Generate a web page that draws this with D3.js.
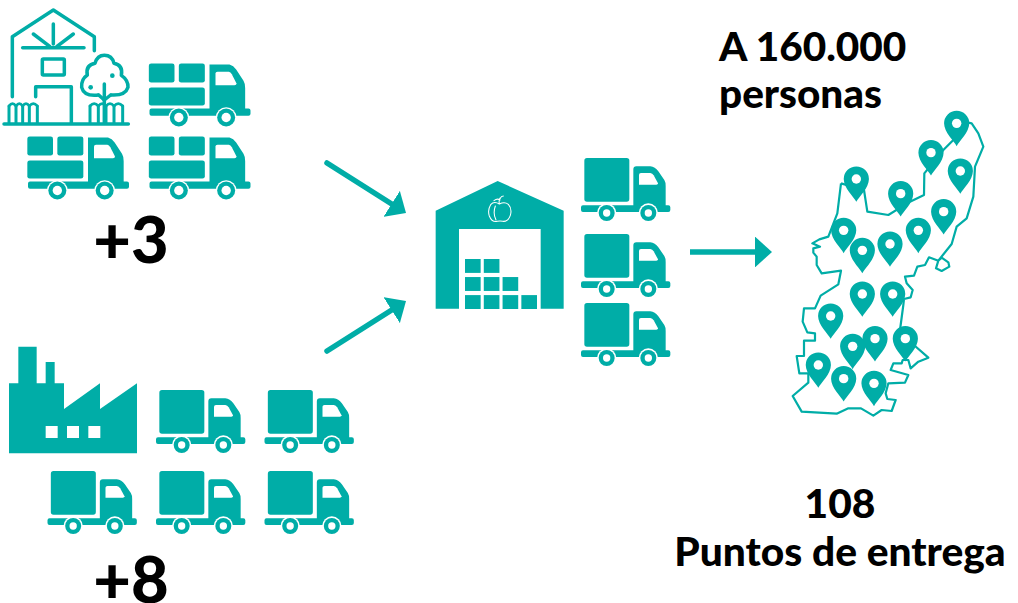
<!DOCTYPE html>
<html>
<head>
<meta charset="utf-8">
<script src="https://cdn.jsdelivr.net/npm/d3@7"></script>
<style>
  html, body { margin: 0; padding: 0; background: #fff; }
  svg { display: block; }
  text { font-family: Lato, sans-serif; font-weight: 900; fill: #000; }
</style>
</head>
<body>
<div id="plot"></div>
<script>
const teal = "#00ADA7";

// texts
const headline = ["A 160.000", "personas"];
const footer = ["108", "Puntos de entrega"];
const addFarms = "+3";
const addFactories = "+8";

// fleet layout, counted in rows and columns
const farmTrucks = [[0, 1], [1, 0], [1, 1]];
const factoryTrucks = [[0, 1], [0, 2], [1, 0], [1, 1], [1, 2]];
const depotTrucks = [0, 1, 2];
const crateRows = [2, 3, 4];

// map outline (x,y in map units)
const mapX = [183,172,145,118,97,120,100,100,110,110,125,183,175,122,105,72,68,82,105,105,72,72,50,58,85,85,38,65,170,205,243,280,305,335,347,322,317,325,375,385,332,340,365,368,385,392,415,445,405,360,370,372,392,398,380,375,402,412,435,447,475,468,485,508,505,485,475,515,530,560,580,585,610,595,575,565,520,490,433,432,390,325,262,252,183];
const mapY = [250,340,410,418,430,440,445,458,470,495,520,512,553,587,625,625,665,697,700,722,722,768,768,820,820,848,888,935,941,925,925,947,930,933,900,897,880,850,848,825,810,790,790,780,780,805,785,773,738,690,615,597,592,570,550,530,527,500,495,472,482,505,513,500,487,473,482,432,380,355,290,200,140,100,70,68,120,150,220,285,305,345,335,270,250];

// delivery points shown on the map
const pinX = [530,453,541,229,362,491,415,191,330,247,247,338,152,285,376,218,115,191,282];
const pinY = [70,158,213,237,281,335,391,391,432,451,582,582,648,716,716,739,795,836,850];

const width = 1018, height = 603;
const svg = d3.select("#plot").append("svg")
  .attr("width", width)
  .attr("height", height)
  .attr("viewBox", `0 0 ${width} ${height}`);

// all icons are traced on a 3x grid
const icon = (x, y) => svg.append("g").attr("transform", `translate(${x},${y}) scale(${1 / 3})`);

function wheels(g, wheelXs, cy, outer, ring, hole) {
  wheelXs.forEach(cx => {
    g.append("circle").attr("cx", cx).attr("cy", cy).attr("r", outer).attr("fill", "#fff");
    g.append("circle").attr("cx", cx).attr("cy", cy).attr("r", ring).attr("fill", teal);
    g.append("circle").attr("cx", cx).attr("cy", cy).attr("r", hole).attr("fill", "#fff");
  });
}

function plainTruck(x, y) {
  const g = icon(x, y);
  g.append("rect").attr("x", 10).attr("y", 0).attr("width", 135).attr("height", 131).attr("rx", 8).attr("fill", teal);
  g.append("path").attr("fill", teal)
    .attr("d", "M157,34 Q157,25 166,25 L208,25 Q222,27 232,40 L250,66 Q254,72 254,84 L254,142 L262,142 Q268,142 268,148 L268,156 Q268,162 262,162 L6,162 Q0,162 0,156 L0,148 Q0,142 6,142 L157,142 Z");
  g.append("path").attr("fill", "#fff")
    .attr("d", "M174,50 Q174,45 180,45 L208,45 Q214,46 218,52 L231,76 Q231,80 226,80 L174,80 Z");
  wheels(g, [77, 202], 165, 29, 24, 11);
}

function cargoTruck(x, y) {
  const g = icon(x, y);
  [[-2, 0, 77, 57], [88, 0, 78, 57], [-2, 72, 168, 54]].forEach(b => {
    g.append("rect").attr("x", b[0]).attr("y", b[1]).attr("width", b[2]).attr("height", b[3]).attr("rx", 7).attr("fill", teal);
  });
  g.append("path").attr("fill", teal)
    .attr("d", "M180,3 L240,3 Q252,6 260,18 L282,52 Q287,60 287,74 L287,135 L297,135 Q303,135 303,141 L303,151 Q303,157 297,157 L6,157 Q0,157 0,151 L0,141 Q0,135 6,135 L180,135 Z");
  g.append("path").attr("fill", "#fff")
    .attr("d", "M198,30 Q198,25 204,25 L238,25 Q243,26 247,32 L261,60 Q261,65 255,65 L198,65 Z");
  wheels(g, [88, 230], 162, 31, 27, 14);
}

// farm house
function house(x, y) {
  const g = icon(x, y).attr("fill", "none").attr("stroke", teal).attr("stroke-width", 10.5)
    .attr("stroke-linecap", "round").attr("stroke-linejoin", "round");
  const paths = [
    "M37,290 L37,110 L160,30 L283,110 L283,152",
    "M160,72 L160,132", "M100,102 L150,140", "M220,102 L170,140", "M68,143 L252,143",
    "M107,290 L107,260 L214,260 L214,370",
    "M12,372 L385,372",
    "M295,285 Q252,290 245,262 Q243,238 262,225 Q256,196 285,190 Q292,166 313,166 Q336,166 342,190 Q370,196 364,226 Q385,240 384,262 Q376,288 333,285",
    "M313,252 L313,370", "M313,300 L296,285", "M313,300 L332,285"
  ];
  paths.forEach(d => g.append("path").attr("d", d));
  g.append("rect").attr("x", 127).attr("y", 177).attr("width", 66).attr("height", 48).attr("rx", 3);
  // fence pickets
  [[27, 48, 68, 88, 112], [270, 295, 318, 342, 368]].forEach(fence => {
    fence.forEach((px, i, all) => {
      g.append("path").attr("stroke-width", 9).attr("d", `M${px},370 L${px},318`);
      if (i < all.length - 1) g.append("path").attr("stroke-width", 8).attr("d", `M${px},318 Q${(px + all[i + 1]) / 2},304 ${all[i + 1]},318`);
    });
  });
  g.append("circle").attr("cx", 272).attr("cy", 262).attr("r", 7).attr("fill", teal).attr("stroke", "none");
  g.append("circle").attr("cx", 337).attr("cy", 227).attr("r", 7).attr("fill", teal).attr("stroke", "none");
}

function factory(x, y) {
  const g = icon(x, y);
  g.append("path").attr("fill", teal)
    .attr("d", "M27,340 L27,130 L55,130 L55,20 L110,20 L110,130 L137,130 L137,66 L164,66 L164,130 L192,130 L192,207 L300,130 L300,207 L411,130 L411,340 Z");
  const win = d3.scalePoint().domain([0, 1, 2]).range([137, 265]);
  win.domain().forEach(i => {
    g.append("rect").attr("x", win(i)).attr("y", 258).attr("width", 36).attr("height", 36).attr("fill", "#fff");
  });
}

function warehouse(x, y) {
  const g = icon(x, y);
  g.append("path").attr("fill", teal)
    .attr("d", "M47,182 L233,93 L431,182 L431,476 L362,476 L362,237 L117,237 L117,476 L47,476 Z");
  const col = d3.scaleBand().domain([0, 1, 2, 3]).range([135, 351]).paddingInner(0.167);
  const row = d3.scaleBand().domain(crateRows).range([327, 477]).paddingInner(0.23);
  crateRows.forEach(n => {
    d3.range(n).forEach(i => {
      g.append("rect").attr("x", col(i)).attr("y", row(n))
        .attr("width", col.bandwidth()).attr("height", row.bandwidth()).attr("fill", teal);
    });
  });
  // apple
  g.append("path").attr("fill", "none").attr("stroke", "#fff").attr("stroke-width", 3.2).attr("stroke-linecap", "round")
    .attr("d", "M238,162 Q222,152 212,164 Q202,180 208,198 Q216,218 232,214 Q240,212 248,214 Q264,216 271,196 Q277,176 265,163 Q254,154 238,162 M238,162 Q236,150 240,144 M222,152 Q232,144 240,150 M240,146 Q244,138 250,138 M226,168 Q218,190 228,210");
}

// arrows, the line stops inside the head
const arrowHead = svg.append("defs").append("marker")
  .attr("id", "head").attr("viewBox", "0 0 10 10").attr("refX", 5).attr("refY", 5)
  .attr("preserveAspectRatio", "none")
  .attr("markerWidth", 3.1).attr("markerHeight", 5.6).attr("orient", "auto");
arrowHead.append("path").attr("d", "M0,0 L10,5 L0,10 Z").attr("fill", teal);

const arrowFrom = [[327, 163], [327, 351], [690, 252]];
const arrowTo = [[406, 213], [406, 301], [772, 252]];
arrowFrom.forEach((a, i) => {
  const dx = arrowTo[i][0] - a[0], dy = arrowTo[i][1] - a[1];
  const len = Math.hypot(dx, dy), k = (len - 8.5) / len;
  svg.append("line")
    .attr("x1", a[0]).attr("y1", a[1])
    .attr("x2", a[0] + dx * k).attr("y2", a[1] + dy * k)
    .attr("stroke", teal).attr("stroke-width", 5.5)
    .attr("stroke-linecap", i === 2 ? "butt" : "round")
    .attr("marker-end", "url(#head)");
});

house(0, 0);
let cx = d3.scalePoint().domain([0, 1]).range([28, 149.5]);
let cy = d3.scalePoint().domain([0, 1]).range([63.5, 136.5]);
farmTrucks.forEach(t => cargoTruck(cx(t[1]), cy(t[0])));

factory(0, 340);
cx = d3.scalePoint().domain([0, 1, 2]).range([47.5, 264.5]);
cy = d3.scalePoint().domain([0, 1]).range([390, 471]);
factoryTrucks.forEach(t => plainTruck(cx(t[1]), cy(t[0])));

warehouse(420, 150);
const depotY = d3.scaleOrdinal().domain(depotTrucks).range([158, 234, 303]);
depotTrucks.forEach(i => plainTruck(581, depotY(i)));

// map
const xMap = d3.scaleLinear().domain([0, 660]).range([780, 1000]);
const yMap = d3.scaleLinear().domain([0, 960]).range([100, 420]);
const outline = d3.line().x(i => xMap(mapX[i])).y(i => yMap(mapY[i]));
svg.append("path")
  .attr("d", outline(d3.range(mapX.length)))
  .attr("fill", "none").attr("stroke", teal).attr("stroke-width", 2.2).attr("stroke-linejoin", "round");

const pins = svg.append("g").selectAll("g").data(pinX).join("g")
  .attr("transform", (d, i) => `translate(${xMap(d)},${yMap(pinY[i])})`);
pins.append("path").attr("fill", teal)
  .attr("d", "M0,22.8 C-2.5,18 -12.6,9 -12.6,0 A12.6,12.6 0 1 1 12.6,0 C12.6,9 2.5,18 0,22.8 Z");
pins.append("circle").attr("r", 4.7).attr("fill", "#fff");

// labels
svg.append("text").attr("x", 719).attr("y", 61).attr("font-size", 40.5).text(headline[0]);
svg.append("text").attr("x", 719).attr("y", 108).attr("font-size", 40.5).text(headline[1]);
svg.append("text").attr("x", 131).attr("y", 263).attr("font-size", 65).attr("text-anchor", "middle").text(addFarms);
svg.append("text").attr("x", 131).attr("y", 603).attr("font-size", 65).attr("text-anchor", "middle").text(addFactories);
svg.append("text").attr("x", 840).attr("y", 518).attr("font-size", 40.7).attr("text-anchor", "middle").text(footer[0]);
svg.append("text").attr("x", 840).attr("y", 566).attr("font-size", 40.7).attr("text-anchor", "middle").text(footer[1]);
</script>
</body>
</html>
